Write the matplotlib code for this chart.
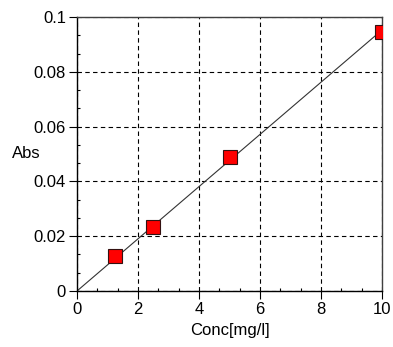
import numpy as np
import matplotlib
matplotlib.use('Agg')
import matplotlib.pyplot as plt
from matplotlib import ticker

##-Data
conc = [1.25, 2.5, 5.0, 10.0]
absorb = [0.0128, 0.0232, 0.0488, 0.0947]

x_ticks = [0, 2, 4, 6, 8, 10]
y_ticks = [0, 0.02, 0.04, 0.06, 0.08, 0.1]
y_labels = ['0', '0.02', '0.04', '0.06', '0.08', '0.1']

# Calibration line through the origin (least squares)
slope = np.dot(conc, absorb) / np.dot(conc, conc)
fit_x = np.array([0, 10])
fit_y = slope * fit_x

##-Plot
plt.rcParams['font.family'] = ['Liberation Sans', 'DejaVu Sans']
plt.rcParams['font.size'] = 12

fig = plt.figure(figsize=(3.93, 3.47), dpi=100)
ax = fig.add_axes([77 / 393, 1 - 291 / 347, 305 / 393, 274 / 347])

ax.plot(fit_x, fit_y, color='#333333', lw=0.8, zorder=2)
ax.plot(conc, absorb, 's', ms=9.5, mfc='#ff0000', mec='#331111', mew=0.8, zorder=3)

ax.set_xlim(0, 10)
ax.set_ylim(0, 0.1)
ax.set_xticks(x_ticks)
ax.set_yticks(y_ticks)
ax.set_yticklabels(y_labels)
ax.xaxis.set_minor_locator(ticker.MultipleLocator(2 / 3))
ax.yaxis.set_minor_locator(ticker.MultipleLocator(0.02 / 3))

ax.tick_params(which='major', direction='out', length=6, width=0.8, pad=2, colors='black')
ax.tick_params(which='minor', direction='in', length=2.5, width=0.8)

ax.grid(True, which='major', color='black', ls=(0, (4, 3)), lw=0.8)

for s in ['left', 'bottom']:
    ax.spines[s].set_color('black')
    ax.spines[s].set_linewidth(1.0)
for s in ['top', 'right']:
    ax.spines[s].set_color('#404040')
    ax.spines[s].set_linewidth(1.0)

ax.set_xlabel('Conc[mg/l]', labelpad=4)
ax.set_ylabel('Abs', rotation=0, ha='left', va='center')
ax.yaxis.set_label_coords(-65 / 305, 0.5)

fig.savefig('out.png', dpi=100)
